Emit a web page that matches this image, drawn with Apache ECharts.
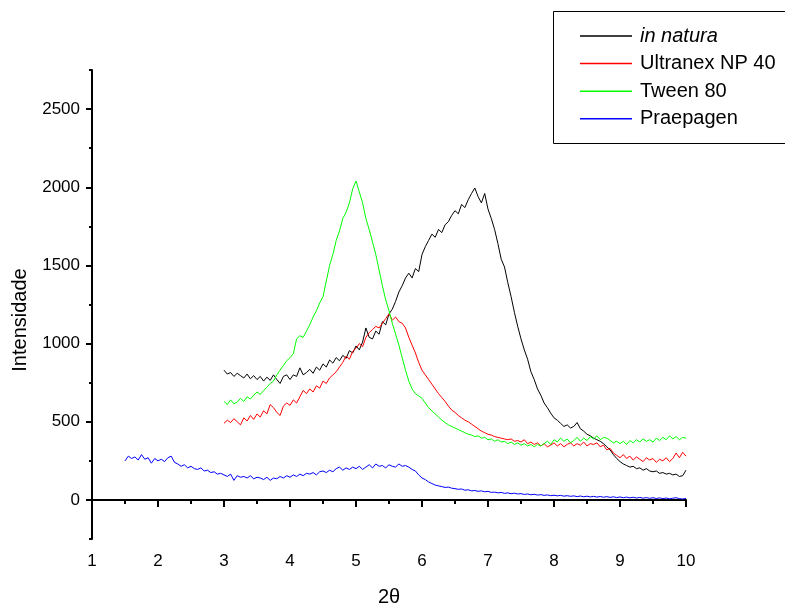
<!DOCTYPE html>
<html>
<head>
    <meta charset="utf-8">
    <title>Intensidade x 2θ</title>
    <script src="https://cdn.jsdelivr.net/npm/echarts@6/dist/echarts.min.js"></script>
    <style>
        html, body { margin: 0; padding: 0; background: #fff; }
        #main { width: 785px; height: 606px; }
    </style>
</head>
<body>
<div id="main"></div>
<script>
    // 2θ (1.50 .. 10.00, passo 0.05)
    var twoTheta = [
        1.50, 1.55, 1.60, 1.65, 1.70, 1.75, 1.80, 1.85, 1.90, 1.95,
        2.00, 2.05, 2.10, 2.15, 2.20, 2.25, 2.30, 2.35, 2.40, 2.45, 2.50, 2.55, 2.60, 2.65, 2.70, 2.75, 2.80, 2.85, 2.90, 2.95,
        3.00, 3.05, 3.10, 3.15, 3.20, 3.25, 3.30, 3.35, 3.40, 3.45, 3.50, 3.55, 3.60, 3.65, 3.70, 3.75, 3.80, 3.85, 3.90, 3.95,
        4.00, 4.05, 4.10, 4.15, 4.20, 4.25, 4.30, 4.35, 4.40, 4.45, 4.50, 4.55, 4.60, 4.65, 4.70, 4.75, 4.80, 4.85, 4.90, 4.95,
        5.00, 5.05, 5.10, 5.15, 5.20, 5.25, 5.30, 5.35, 5.40, 5.45, 5.50, 5.55, 5.60, 5.65, 5.70, 5.75, 5.80, 5.85, 5.90, 5.95,
        6.00, 6.05, 6.10, 6.15, 6.20, 6.25, 6.30, 6.35, 6.40, 6.45, 6.50, 6.55, 6.60, 6.65, 6.70, 6.75, 6.80, 6.85, 6.90, 6.95,
        7.00, 7.05, 7.10, 7.15, 7.20, 7.25, 7.30, 7.35, 7.40, 7.45, 7.50, 7.55, 7.60, 7.65, 7.70, 7.75, 7.80, 7.85, 7.90, 7.95,
        8.00, 8.05, 8.10, 8.15, 8.20, 8.25, 8.30, 8.35, 8.40, 8.45, 8.50, 8.55, 8.60, 8.65, 8.70, 8.75, 8.80, 8.85, 8.90, 8.95,
        9.00, 9.05, 9.10, 9.15, 9.20, 9.25, 9.30, 9.35, 9.40, 9.45, 9.50, 9.55, 9.60, 9.65, 9.70, 9.75, 9.80, 9.85, 9.90, 9.95,
        10.00
    ];

    // in natura (3.00 .. 10.00)
    var inNatura = [
        830, 805, 815, 790, 810, 795, 780, 805, 775, 795, 770, 790, 760, 785, 765, 800, 770, 745, 790, 800,
        770, 800, 790, 845, 800, 815, 835, 810, 850, 830, 870, 850, 895, 875, 910, 890, 925, 905, 955, 940,
        985, 960, 1010, 1100, 1040, 1030, 1080, 1060, 1140, 1120, 1190, 1220, 1270, 1330, 1370, 1420, 1450, 1420, 1480, 1460,
        1570, 1620, 1660, 1700, 1680, 1730, 1710, 1760, 1780, 1820, 1850, 1830, 1890, 1870, 1920, 1960, 1995, 1940, 1900, 1960,
        1860, 1800, 1730, 1640, 1540, 1490, 1390, 1300, 1200, 1110, 1030, 960, 900, 820, 770, 710, 670, 620, 590, 555,
        525, 510, 490, 470, 480, 460, 470, 495, 455, 440, 420, 410, 395, 385, 375, 360, 340, 320, 290, 265,
        245, 230, 220, 210, 215, 200, 205, 190, 200, 185, 180, 185, 170, 175, 165, 170, 160, 165, 150, 155,
        190
    ];

    // Ultranex NP 40 (3.00 .. 10.00)
    var ultranex = [
        490, 510, 495, 520, 500, 480, 525, 505, 540, 515, 550, 530, 570, 550, 610, 590, 560, 540, 600, 620,
        605, 640, 620, 660, 700, 680, 710, 690, 730, 715, 760, 745, 780, 800, 820, 850, 880, 920, 900, 950,
        970, 1000, 980, 1040, 1070, 1090, 1110, 1100, 1130, 1160, 1190, 1150, 1170, 1140, 1130, 1100, 1040, 990, 940, 880,
        830, 800, 770, 740, 710, 680, 655, 630, 600, 575, 560, 540, 525, 510, 500, 485, 470, 455, 440, 430,
        420, 415, 405, 400, 395, 390, 385, 390, 375, 380, 370, 385, 360, 370, 355, 365, 345, 360, 340, 350,
        365, 345, 360, 340, 355, 365, 345, 360, 350, 370, 345, 360, 355, 365, 340, 350, 320, 330, 300, 285,
        270, 290, 265, 280, 255, 275, 260, 245, 270, 255, 265, 240, 260, 250, 270, 245, 265, 300, 270, 305,
        280
    ];

    // Tween 80 (3.00 .. 10.00)
    var tween80 = [
        630, 610, 640, 615, 625, 650, 630, 660, 645, 670, 690, 675, 700, 720, 745, 760, 800, 830, 860, 890,
        910, 935, 1030, 1050, 1040, 1080, 1120, 1170, 1210, 1260, 1300, 1400, 1500, 1570, 1660, 1720, 1800, 1840, 1900, 1990,
        2040, 1970, 1900, 1800, 1730, 1650, 1570, 1470, 1370, 1280, 1210, 1130, 1060, 990, 910, 830, 760, 710, 680, 665,
        650, 620, 590, 570, 550, 530, 510, 495, 480, 470, 460, 450, 440, 430, 420, 415, 405, 410, 395, 400,
        385, 390, 375, 385, 370, 375, 360, 370, 355, 365, 350, 360, 345, 355, 340, 355, 345, 360, 375, 355,
        385, 370, 395, 375, 390, 365, 380, 400, 375, 395, 380, 405, 390, 410, 385, 400, 395, 380, 365, 375,
        360, 375, 355, 380, 365, 385, 370, 390, 375, 385, 370, 395, 380, 400, 385, 410, 390, 405, 385, 400,
        395
    ];

    // Praepagen (1.50 .. 10.00)
    var praepagen = [
        250, 280, 265, 275, 255, 290, 260, 270, 235, 265,
        250, 260, 245, 270, 280, 240, 230, 215, 225, 205, 215, 200, 195, 205, 185, 190, 175, 180, 165, 170,
        160, 150, 165, 125, 155, 145, 150, 140, 155, 135, 145, 140, 130, 145, 125, 140, 135, 150, 140, 155,
        145, 160, 150, 165, 155, 170, 165, 175, 160, 180, 185, 175, 190, 180, 200, 210, 190, 205, 195, 210,
        200, 215, 195, 210, 225, 205, 230, 215, 220, 205, 225, 215, 210, 230, 215, 220, 210, 195, 185, 160,
        140, 130, 115, 105, 95, 90, 85, 80, 82, 75, 72, 68, 70, 62, 65, 58, 60, 55, 58, 52,
        55, 48, 50, 45, 48, 42, 45, 40, 43, 38, 40, 35, 38, 33, 36, 31, 34, 29, 32, 27,
        30, 26, 29, 24, 27, 23, 26, 21, 25, 20, 24, 19, 23, 18, 22, 17, 21, 16, 20, 15,
        19, 14, 18, 13, 17, 12, 16, 11, 15, 10, 14, 9, 13, 8, 12, 7, 11, 14, 8, 6,
        9
    ];

    var yMajor = [0, 500, 1000, 1500, 2000, 2500];
    var yMinor = [-250, 250, 750, 1250, 1750, 2250, 2750];

    var font = 'Liberation Sans, Arial, sans-serif';

    function pairs(xs, ys) {
        var out = [];
        for (var i = 0; i < ys.length; i++) {
            out.push([xs[i], ys[i]]);
        }
        return out;
    }

    var x3 = twoTheta.slice(30);

    function lineSeries(name, data, color) {
        return {
            name: name,
            type: 'line',
            data: data,
            symbol: 'none',
            animation: false,
            lineStyle: { color: color, width: 1 },
            itemStyle: { color: color }
        };
    }

    var chart = echarts.init(document.getElementById('main'));

    var option = {
        backgroundColor: '#fff',
        animation: false,
        grid: { left: 92, right: 99, top: 70, bottom: 67 },
        xAxis: {
            type: 'value',
            min: 1,
            max: 10,
            interval: 1,
            axisLine: { lineStyle: { color: '#000', width: 2 } },
            axisTick: { length: 7, lineStyle: { color: '#000', width: 2 } },
            minorTick: { show: true, splitNumber: 2, length: 4, lineStyle: { color: '#000', width: 2 } },
            splitLine: { show: false },
            axisLabel: { color: '#000', fontSize: 17, fontFamily: font, margin: 14 }
        },
        yAxis: [{
            type: 'value',
            min: -250,
            max: 2750,
            axisLine: { show: true, lineStyle: { color: '#000', width: 2 } },
            axisTick: { show: true, length: 6, customValues: yMajor, lineStyle: { color: '#000', width: 2 } },
            splitLine: { show: false },
            axisLabel: {
                customValues: yMajor, color: '#000', fontSize: 17, fontFamily: font, margin: 12,
                formatter: function (v) { return String(v); }
            }
        }, {
            type: 'value',
            position: 'left',
            min: -250,
            max: 2750,
            axisLine: { show: false },
            axisTick: { show: true, length: 3, customValues: yMinor, lineStyle: { color: '#000', width: 2 } },
            splitLine: { show: false },
            axisLabel: { show: false }
        }],
        legend: {
            orient: 'vertical',
            left: 580,
            top: 26,
            padding: 0,
            icon: 'rect',
            itemWidth: 52,
            itemHeight: 1.5,
            itemGap: 7.6,
            textStyle: {
                color: '#000', fontSize: 20, lineHeight: 20, fontFamily: font, padding: [0, 0, 0, 3],
                rich: { i: { fontStyle: 'italic', fontSize: 20, lineHeight: 20, fontFamily: font, color: '#000' } }
            },
            formatter: function (name) {
                return name === 'in natura' ? '{i|in natura}' : name;
            },
            data: ['in natura', 'Ultranex NP 40', 'Tween 80', 'Praepagen']
        },
        graphic: [{
            type: 'rect',
            shape: { x: 553.5, y: 11.5, width: 300, height: 132 },
            style: { fill: 'none', stroke: '#000', lineWidth: 1 },
            z: 0
        }, {
            type: 'text',
            x: 20,
            y: 320,
            rotation: Math.PI / 2,
            style: {
                text: 'Intensidade', fill: '#000', fontSize: 20, fontFamily: font,
                align: 'center', verticalAlign: 'middle'
            }
        }, {
            type: 'text',
            x: 389,
            y: 597,
            style: {
                text: '2θ', fill: '#000', fontSize: 20, fontFamily: font,
                align: 'center', verticalAlign: 'middle'
            }
        }],
        series: [
            lineSeries('in natura', pairs(x3, inNatura), '#000000'),
            lineSeries('Ultranex NP 40', pairs(x3, ultranex), '#ff0000'),
            lineSeries('Tween 80', pairs(x3, tween80), '#00ff00'),
            lineSeries('Praepagen', pairs(twoTheta, praepagen), '#0000ff')
        ]
    };

    chart.setOption(option);
</script>
</body>
</html>
